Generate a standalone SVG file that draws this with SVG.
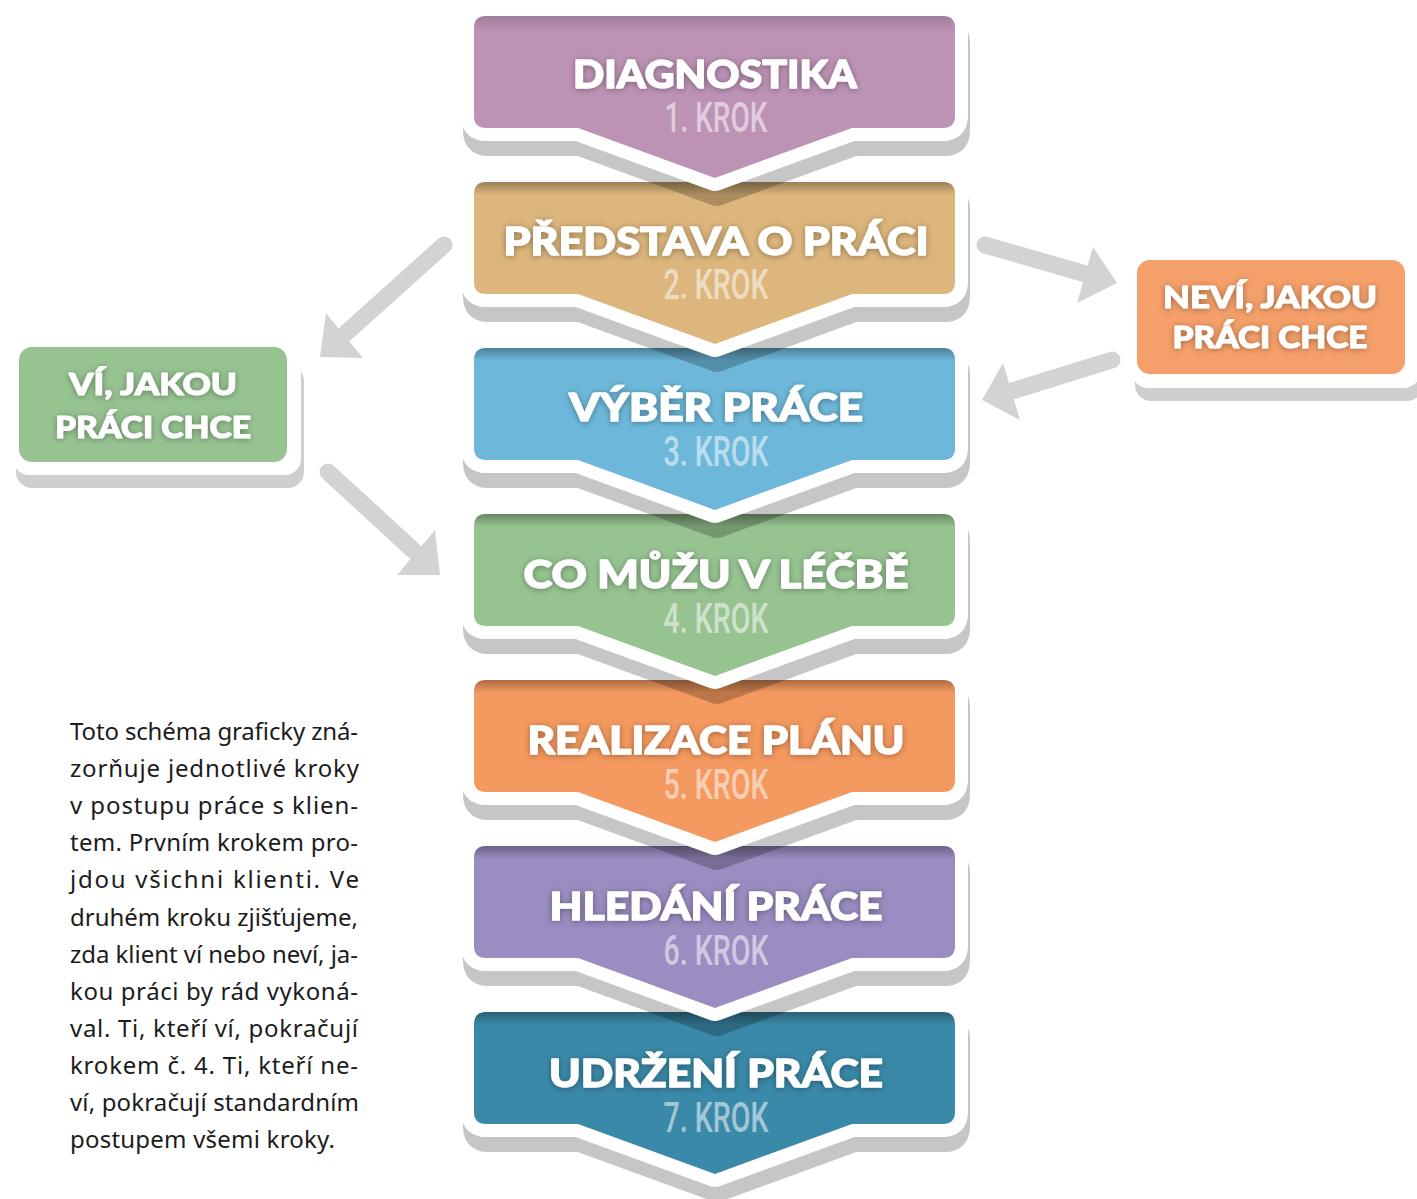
<svg xmlns="http://www.w3.org/2000/svg" xmlns:xlink="http://www.w3.org/1999/xlink" width="1417" height="1199" viewBox="0 0 1417 1199">
<defs>
<style>
.title{font-family:Lato,"Open Sans","DejaVu Sans",sans-serif;font-weight:900;font-size:38px;fill:#ffffff;stroke:#ffffff;stroke-width:1.3px;stroke-linejoin:round;text-anchor:middle;filter:url(#ts)}
.side{font-family:Lato,"Open Sans","DejaVu Sans",sans-serif;font-weight:900;font-size:30px;fill:#ffffff;stroke:#ffffff;stroke-width:1px;stroke-linejoin:round;text-anchor:middle;filter:url(#ts)}
.krok{font-family:Roboto,"Liberation Sans",sans-serif;font-weight:500;font-size:42px;fill:#ffffff;fill-opacity:0.55;text-anchor:middle}
.para{font-family:"Noto Sans","Open Sans",sans-serif;font-size:24px;fill:#1c1c1c}
.arrow line{stroke:#d2d3d5;stroke-width:17;stroke-linecap:round}
.arrow polygon{fill:#d2d3d5}
.plate{fill:#ffffff;stroke:#ffffff;stroke-width:26;stroke-linejoin:round}
.shadow{fill:#000;stroke:#000;stroke-width:26;stroke-linejoin:round}
</style>
<filter id="ts" x="-10%" y="-40%" width="120%" height="180%">
<feDropShadow dx="0" dy="1" stdDeviation="3" flood-color="#000" flood-opacity="0.35"/>
</filter>
<linearGradient id="topshade" x1="0" y1="0" x2="0" y2="1">
<stop offset="0" stop-color="#000" stop-opacity="0.3"/>
<stop offset="0.08" stop-color="#000" stop-opacity="0"/>
</linearGradient>
<linearGradient id="topshadeS" x1="0" y1="0" x2="0" y2="1">
<stop offset="0" stop-color="#000" stop-opacity="0.15"/>
<stop offset="0.1" stop-color="#000" stop-opacity="0"/>
</linearGradient>
<path id="chev" d="M486 0H943Q955 0 955 12V100Q955 112 943 112H852L715 162L578 112H486Q474 112 474 100V12Q474 0 486 0Z"/>
</defs>
<rect width="1417" height="1199" fill="#ffffff"/>

<g id="step7" transform="translate(0,1012)">
<g opacity="0.22" transform="translate(2,15)"><use xlink:href="#chev" class="shadow"/></g>
<use xlink:href="#chev" class="plate"/>
<use xlink:href="#chev" fill="#3a89a8"/>
<use xlink:href="#chev" fill="url(#topshade)"/>
<text class="title" x="716" y="75" textLength="334" lengthAdjust="spacingAndGlyphs">UDRŽENÍ PRÁCE</text>
<text class="krok" x="716" y="120" textLength="105" lengthAdjust="spacingAndGlyphs">7. KROK</text>
</g>

<g id="step6" transform="translate(0,846)">
<g opacity="0.22" transform="translate(2,15)"><use xlink:href="#chev" class="shadow"/></g>
<use xlink:href="#chev" class="plate"/>
<use xlink:href="#chev" fill="#9b8cc1"/>
<use xlink:href="#chev" fill="url(#topshade)"/>
<text class="title" x="716" y="74" textLength="333" lengthAdjust="spacingAndGlyphs">HLEDÁNÍ PRÁCE</text>
<text class="krok" x="716" y="119" textLength="105" lengthAdjust="spacingAndGlyphs">6. KROK</text>
</g>

<g id="step5" transform="translate(0,680)">
<g opacity="0.22" transform="translate(2,15)"><use xlink:href="#chev" class="shadow"/></g>
<use xlink:href="#chev" class="plate"/>
<use xlink:href="#chev" fill="#f4995f"/>
<use xlink:href="#chev" fill="url(#topshade)"/>
<text class="title" x="716" y="74" textLength="377" lengthAdjust="spacingAndGlyphs">REALIZACE PLÁNU</text>
<text class="krok" x="716" y="119" textLength="105" lengthAdjust="spacingAndGlyphs">5. KROK</text>
</g>

<g id="step4" transform="translate(0,514)">
<g opacity="0.22" transform="translate(2,15)"><use xlink:href="#chev" class="shadow"/></g>
<use xlink:href="#chev" class="plate"/>
<use xlink:href="#chev" fill="#97c391"/>
<use xlink:href="#chev" fill="url(#topshade)"/>
<text class="title" x="716" y="74" textLength="385" lengthAdjust="spacingAndGlyphs">CO MŮŽU V LÉČBĚ</text>
<text class="krok" x="716" y="119" textLength="105" lengthAdjust="spacingAndGlyphs">4. KROK</text>
</g>

<g id="step3" transform="translate(0,348)">
<g opacity="0.22" transform="translate(2,15)"><use xlink:href="#chev" class="shadow"/></g>
<use xlink:href="#chev" class="plate"/>
<use xlink:href="#chev" fill="#6db8da"/>
<use xlink:href="#chev" fill="url(#topshade)"/>
<text class="title" x="716" y="73" textLength="294" lengthAdjust="spacingAndGlyphs">VÝBĚR PRÁCE</text>
<text class="krok" x="716" y="118" textLength="105" lengthAdjust="spacingAndGlyphs">3. KROK</text>
</g>

<g id="step2" transform="translate(0,182)">
<g opacity="0.22" transform="translate(2,15)"><use xlink:href="#chev" class="shadow"/></g>
<use xlink:href="#chev" class="plate"/>
<use xlink:href="#chev" fill="#dcb67c"/>
<use xlink:href="#chev" fill="url(#topshade)"/>
<text class="title" x="716" y="73" textLength="425" lengthAdjust="spacingAndGlyphs">PŘEDSTAVA O PRÁCI</text>
<text class="krok" x="716" y="117" textLength="105" lengthAdjust="spacingAndGlyphs">2. KROK</text>
</g>

<g id="step1" transform="translate(0,16)">
<g opacity="0.22" transform="translate(2,15)"><use xlink:href="#chev" class="shadow"/></g>
<use xlink:href="#chev" class="plate"/>
<use xlink:href="#chev" fill="#bd93b5"/>
<use xlink:href="#chev" fill="url(#topshadeS)"/>
<text class="title" x="715" y="72" textLength="284" lengthAdjust="spacingAndGlyphs">DIAGNOSTIKA</text>
<text class="krok" x="716" y="116" textLength="103" lengthAdjust="spacingAndGlyphs">1. KROK</text>
</g>

<g id="knows">
<rect x="16" y="365" width="288" height="123" rx="16" fill="#000" opacity="0.19"/>
<rect x="13" y="352" width="288" height="123" rx="16" fill="#ffffff"/>
<rect x="19" y="347" width="268" height="115" rx="13" fill="#97c391"/>
<text class="side" x="153" y="395" textLength="168" lengthAdjust="spacingAndGlyphs">VÍ, JAKOU</text>
<text class="side" x="153" y="438" textLength="196" lengthAdjust="spacingAndGlyphs">PRÁCI CHCE</text>
</g>

<g id="doesnt-know">
<rect x="1135" y="278" width="288" height="123" rx="16" fill="#000" opacity="0.19"/>
<rect x="1132" y="265" width="288" height="123" rx="16" fill="#ffffff"/>
<rect x="1137" y="260" width="268" height="114" rx="13" fill="#f5a06a"/>
<text class="side" x="1270" y="308" textLength="214" lengthAdjust="spacingAndGlyphs">NEVÍ, JAKOU</text>
<text class="side" x="1270" y="348" textLength="195" lengthAdjust="spacingAndGlyphs">PRÁCI CHCE</text>
</g>

<g id="connectors" class="arrow">
<line x1="444" y1="245" x2="346" y2="333"/>
<polygon points="320,357 326,313 363,358"/>
<line x1="328" y1="472" x2="414" y2="551"/>
<polygon points="440,575 435,530 397,575"/>
<line x1="985" y1="245" x2="1086" y2="274"/>
<polygon points="1117,283 1093,247 1077,303"/>
<line x1="1112" y1="360" x2="1012" y2="391"/>
<polygon points="982,400 1003,363 1020,420"/>
</g>

<g id="description" class="para">
<text x="70" y="740" textLength="288" lengthAdjust="spacing">Toto schéma graficky zná-</text>
<text x="70" y="777" textLength="289" lengthAdjust="spacing">zorňuje jednotlivé kroky</text>
<text x="70" y="814" textLength="288" lengthAdjust="spacing">v postupu práce s klien-</text>
<text x="70" y="851" textLength="288" lengthAdjust="spacing">tem. Prvním krokem pro-</text>
<text x="70" y="888" textLength="289" lengthAdjust="spacing">jdou všichni klienti. Ve</text>
<text x="70" y="926" textLength="288" lengthAdjust="spacing">druhém kroku zjišťujeme,</text>
<text x="70" y="963" textLength="288" lengthAdjust="spacing">zda klient ví nebo neví, ja-</text>
<text x="70" y="1000" textLength="288" lengthAdjust="spacing">kou práci by rád vykoná-</text>
<text x="70" y="1037" textLength="288" lengthAdjust="spacing">val. Ti, kteří ví, pokračují</text>
<text x="70" y="1074" textLength="288" lengthAdjust="spacing">krokem č. 4. Ti, kteří ne-</text>
<text x="70" y="1111" textLength="289" lengthAdjust="spacing">ví, pokračují standardním</text>
<text x="70" y="1148" textLength="265" lengthAdjust="spacing">postupem všemi kroky.</text>
</g>
</svg>
